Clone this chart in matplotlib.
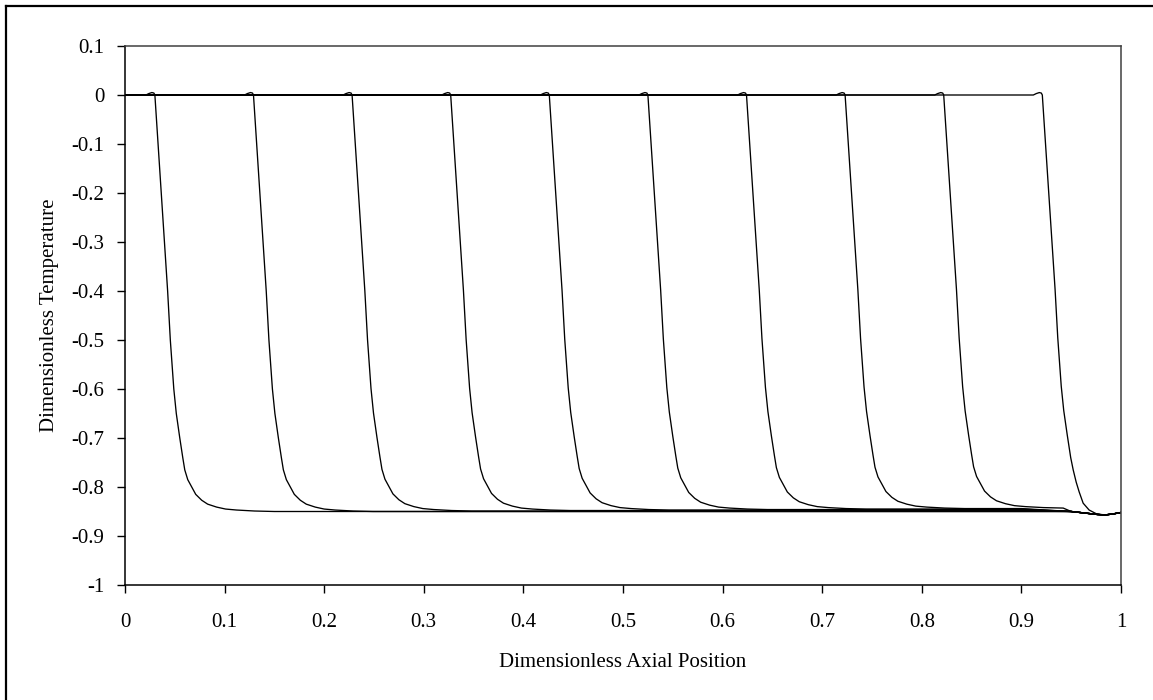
import matplotlib
matplotlib.use("Agg")
import matplotlib.pyplot as plt
from matplotlib.lines import Line2D

plt.rcParams['font.family'] = ['Liberation Serif', 'DejaVu Serif']

# front position of each profile (where it leaves 0)
fronts = [0.030, 0.129, 0.228, 0.327, 0.426, 0.525, 0.624, 0.723, 0.822, 0.921]
# level each profile settles to behind its front
plateaus = [-0.850, -0.850, -0.849, -0.848, -0.847, -0.846, -0.845, -0.844, -0.843, -0.842]

# shape of a front: offset from front, value
shape_dx = [-0.009, -0.006, -0.003, -0.001, 0.0, 0.0032, 0.0064, 0.0096, 0.0128,
            0.0155, 0.0190, 0.0215, 0.0250, 0.028, 0.030, 0.033, 0.037, 0.041,
            0.047, 0.053, 0.062, 0.071, 0.082, 0.100, 0.120]
shape_y = [0.0, 0.003, 0.005, 0.004, 0.0, -0.10, -0.20, -0.30, -0.40,
           -0.50, -0.60, -0.65, -0.70, -0.74, -0.765, -0.785, -0.80, -0.815,
           -0.827, -0.835, -0.841, -0.845, -0.847, -0.849, -0.850]

# foot of the last profile, where it runs into the outlet
last_x = [0.9495, 0.952, 0.955, 0.958, 0.962, 0.968, 0.9756]
last_y = [-0.740, -0.765, -0.790, -0.810, -0.833, -0.847, -0.855]

# common tail near the outlet
tail_x = [0.95, 0.963, 0.976, 0.984, 0.992, 1.0]
tail_y = [-0.850, -0.853, -0.856, -0.857, -0.855, -0.852]

fig = plt.figure(figsize=(11.53, 7.0), dpi=100)
ax = fig.add_axes([125 / 1153, 1 - 585 / 700, 996 / 1153, 539 / 700])

for k, (f, p) in enumerate(zip(fronts, plateaus)):
    xs = [0.0]
    ys = [0.0]
    for dx, y in zip(shape_dx, shape_y):
        x = f + dx
        if x > 0.947 and y < -0.5:
            break
        xs.append(x)
        ys.append(y * p / -0.850)
    if k == len(fronts) - 1:
        xs += last_x
        ys += last_y
    elif xs[-1] < 0.90:
        xs.append(0.90)
        ys.append(p)
    x_end = xs[-1]
    for x, y in zip(tail_x, tail_y):
        if x > x_end + 0.005:
            xs.append(x)
            ys.append(y)
    ax.plot(xs, ys, color='black', lw=0.95)

ax.set_xlim(0, 1)
ax.set_ylim(-1, 0.1)
ax.set_xticks([i / 10 for i in range(11)])
ax.set_xticklabels(['0', '0.1', '0.2', '0.3', '0.4', '0.5', '0.6', '0.7', '0.8', '0.9', '1'])
ax.set_yticks([0.1 - i / 10 for i in range(12)])
ax.set_yticklabels(['0.1', '0', '-0.1', '-0.2', '-0.3', '-0.4', '-0.5', '-0.6',
                    '-0.7', '-0.8', '-0.9', '-1'])
ax.tick_params(direction='out', length=6, width=1.0, labelsize=15, pad=9)
ax.tick_params(axis='x', pad=14)
for s in ax.spines.values():
    s.set_linewidth(1.1)
ax.spines['right'].set_color('#404040')
ax.spines['top'].set_color('#404040')

ax.set_xlabel('Dimensionless Axial Position', fontsize=15, labelpad=15)
ax.set_ylabel('Dimensionless Temperature', fontsize=15, labelpad=9)

# outer chart border (only left and top fall inside the image)
fig.add_artist(Line2D([5.5 / 1153, 5.5 / 1153], [0, 1 - 6 / 700], color='black', lw=1.6,
                      transform=fig.transFigure))
fig.add_artist(Line2D([5.5 / 1153, 1], [1 - 6 / 700, 1 - 6 / 700], color='black', lw=1.6,
                      transform=fig.transFigure))

fig.savefig('out.png', dpi=100)
